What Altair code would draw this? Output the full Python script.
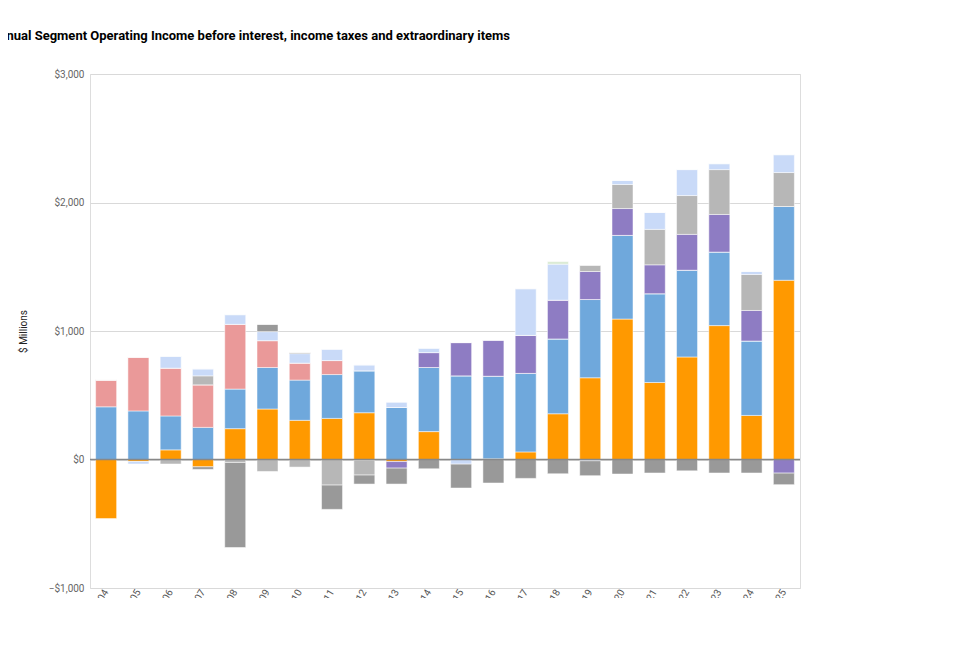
import pandas as pd
import altair as alt

years = [str(y) for y in range(2004, 2026)]

# legend order (top to bottom) and stacking order is the reverse
segments = ["Fair Hydro Trust", "Nuclear Waste Mgmt", "Services/Trading/Other", "Fossil-Fuelled",
            "Contracted and Other", "Hydro - Unegulated", "Hydro - Regulated", "Nuclear"]
colors = ["#d9ead3", "#999999", "#c9daf8", "#b7b7b7", "#8e7cc3", "#ea9999", "#6fa8dc", "#ff9900"]

nuclear = [-460, -15, 75, -57, 240, 393, 305, 320, 364, -16, 217, 0, 5, 59, 356, 636,
           1093, 599, 798, 1042, 343, 1395]
hydro_reg = [410, 378, 264, 250, 308, 323, 313, 341, 326, 405, 499, 651, 643, 611, 582, 609,
             651, 691, 675, 572, 579, 574]
hydro_unreg = [210, 420, 372, 331, 504, 209, 132, 109, -5, 0, 0, 0, 0, 0, 0, 0,
               0, 0, 0, 0, 0, 0]
contracted = [0, 0, 0, 0, 0, 0, 0, 0, 0, -51, 116, 259, 282, 296, 302, 218,
              209, 225, 279, 293, 238, -106]
fossil = [0, 0, -35, 70, -23, -93, -59, -199, -116, 0, 0, 0, 0, 0, 0, 49,
          187, 276, 302, 349, 280, 264]
services = [0, -20, 93, 54, 75, 70, 74, 88, 46, 42, 34, -36, 0, 363, 280, -10,
            31, 131, 202, 46, 23, 139]
nuclear_waste = [0, 0, 0, -20, -662, 57, 8, -189, -70, -124, -72, -186, -183, -147, -111, -116,
                 -113, -105, -88, -105, -105, -90]
fair_hydro = [0] * 14 + [20] + [0] * 7

series = {
    "Nuclear": nuclear,
    "Hydro - Regulated": hydro_reg,
    "Hydro - Unegulated": hydro_unreg,
    "Contracted and Other": contracted,
    "Fossil-Fuelled": fossil,
    "Services/Trading/Other": services,
    "Nuclear Waste Mgmt": nuclear_waste,
    "Fair Hydro Trust": fair_hydro,
}

rows = []
for rank, (name, vals) in enumerate(series.items()):
    for yr, v in zip(years, vals):
        rows.append({"year": yr, "segment": name, "value": v, "rank": rank})
df = pd.DataFrame(rows)

footnote = ('For 2015 "Hydro-Unregulated"  ended, as did fossil-fueled; as of 2014 reporting '
            '"contracted" tracks joint ventures shares as well as biomass contracted with OPA/IESO')

bars = (
    alt.Chart(df)
    .mark_bar(size=21, stroke="white", strokeWidth=0.5)
    .encode(
        x=alt.X("year:N", sort=years, title=footnote,
                axis=alt.Axis(labelAngle=-60, labelColor="#555", labelFontSize=10,
                              titleFontWeight="normal", titleFontSize=10, titleColor="#222",
                              titlePadding=36, ticks=False, domain=False)),
        y=alt.Y("value:Q", title="$ Millions", stack="zero",
                scale=alt.Scale(domain=[-1000, 3000]),
                axis=alt.Axis(values=[-1000, 0, 1000, 2000, 3000], format="$,.0f",
                              labelColor="#666", labelFontSize=10, titleFontWeight="normal",
                              titleFontSize=10, titleColor="#222", ticks=False, domain=False,
                              gridColor="#d9d9d9", labelPadding=6, titlePadding=20)),
        color=alt.Color("segment:N", title=None,
                        scale=alt.Scale(domain=segments, range=colors),
                        legend=alt.Legend(symbolType="square", symbolSize=90, labelFontSize=10,
                                          labelColor="#444", rowPadding=4, offset=40,
                                          orient="right")),
        order=alt.Order("rank:Q"),
        tooltip=["year:N", "segment:N", "value:Q"],
    )
)

zero = alt.Chart(pd.DataFrame({"v": [0]})).mark_rule(color="#888", strokeWidth=1.5).encode(y="v:Q")

chart = (
    alt.layer(bars, zero)
    .properties(
        title=alt.TitleParams("OPG Annual Segment Operating Income before interest, income taxes and extraordinary items",
                              anchor="start", fontSize=13, fontWeight="bold", offset=26, dx=-57),
        width=710,
        height=514,
        autosize=alt.AutoSizeParams(type="none"),
        padding={"left": 82, "top": 66, "right": 10, "bottom": 10},
    )
    .configure_view(stroke=None)
    .configure(font="Roboto")
)

chart.save("out.html", embed_options={"renderer": "svg", "actions": False})
